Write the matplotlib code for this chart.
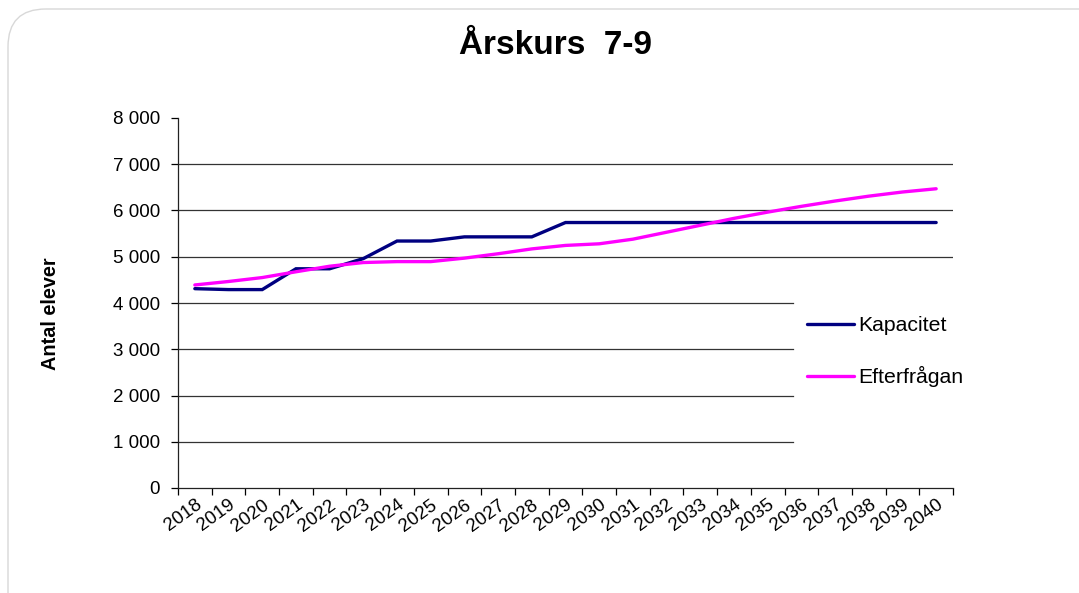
import matplotlib
matplotlib.use("Agg")
import matplotlib.pyplot as plt
from matplotlib.patches import FancyBboxPatch

plt.rcParams['font.family'] = ['Liberation Sans', 'DejaVu Sans']

years = [str(y) for y in range(2018, 2041)]
kapacitet = [4310, 4290, 4290, 4740, 4740, 4960, 5340, 5340, 5430, 5430, 5430, 5740,
             5740, 5740, 5740, 5740, 5740, 5740, 5740, 5740, 5740, 5740, 5740]
efterfragan = [4390, 4465, 4550, 4675, 4795, 4875, 4895, 4895, 4970, 5065, 5170, 5245,
               5280, 5380, 5530, 5680, 5830, 5965, 6090, 6205, 6310, 6400, 6470]
series_names = ["Kapacitet", "Efterfrågan"]
series_colors = ["#000080", "#FF00FF"]
yticks = list(range(0, 8001, 1000))
ytick_labels = ["0"] + [f"{v // 1000} 000" for v in yticks[1:]]

fig = plt.figure(figsize=(10.79, 5.93), dpi=100)
# rounded frame
frame = FancyBboxPatch((8 / 1079, -0.1), 1.2, 1.1 - 9 / 593,
                       boxstyle="round,pad=0,rounding_size=0.035",
                       transform=fig.transFigure, facecolor="white",
                       edgecolor="#d8d8d8", linewidth=1.0, mutation_aspect=1079 / 593,
                       zorder=-10)
fig.patches.append(frame)

ax = fig.add_axes([178 / 1079, 105 / 593, 775 / 1079, 370 / 593])
ax.set_facecolor("none")
ax.set_zorder(5)
x = list(range(len(years)))
ax.plot(x, kapacitet, color=series_colors[0], lw=2.4, label=series_names[0],
        solid_capstyle="round", solid_joinstyle="miter", zorder=3)
ax.plot(x, efterfragan, color=series_colors[1], lw=2.4, label=series_names[1],
        solid_capstyle="round", zorder=3)

ax.set_xlim(-0.5, len(years) - 0.5)
ax.set_ylim(0, 8000)
ax.set_yticks(yticks)
ax.set_yticklabels(ytick_labels, fontsize=13.5)
ax.set_xticks([i - 0.5 for i in range(len(years) + 1)], minor=False)
ax.set_xticklabels([""] * (len(years) + 1))
ax.set_xticks(x, minor=True)
ax.set_xticklabels(years, minor=True, rotation=36, ha="right", rotation_mode="anchor",
                   fontsize=13.5)
ax.tick_params(axis="x", which="minor", length=0, pad=6)
ax.tick_params(axis="x", which="major", length=5, width=0.9, direction="out")
ax.tick_params(axis="y", length=5, width=0.9, direction="out", pad=8)

for s in ["top", "right"]:
    ax.spines[s].set_visible(False)
for s in ["left", "bottom"]:
    ax.spines[s].set_linewidth(0.9)
    ax.spines[s].set_color("#222222")

# gridlines (lower ones cut by legend area)
legend_cut = (793 - 178) / 775
for v in yticks[1:-1]:
    xmax = legend_cut if v <= 4000 else 1.0
    ax.axhline(v, xmin=0, xmax=xmax, color="#333333", lw=0.9, zorder=1)

ax.set_ylabel("Antal elever", fontsize=14.3, fontweight="bold")
ax.yaxis.set_label_coords(-0.152, 0.47)

fig.text(0.515, 1 - 45 / 593, "Årskurs  7-9", ha="center", va="center",
         fontsize=24, fontweight="bold")

leg = ax.legend(loc="upper left", bbox_to_anchor=(788 / 1079, 296 / 593),
                bbox_transform=fig.transFigure, frameon=False, fontsize=15.3,
                handlelength=2.2, handletextpad=0.2, labelspacing=1.45)

fig.savefig("out.png", dpi=100)
